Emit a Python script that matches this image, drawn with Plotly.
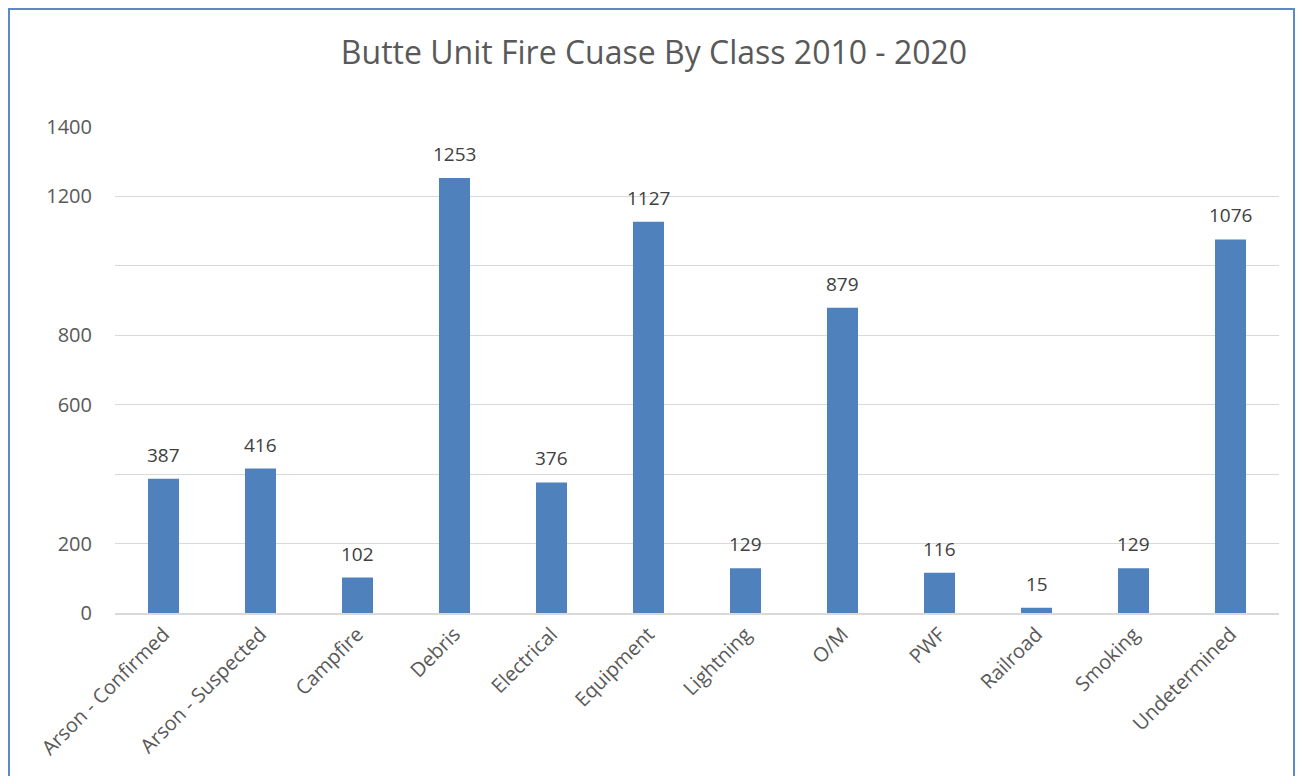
import plotly.graph_objects as go

categories = ["Arson - Confirmed", "Arson - Suspected", "Campfire", "Debris", "Electrical",
              "Equipment", "Lightning", "O/M", "PWF", "Railroad", "Smoking", "Undetermined"]
counts = [387, 416, 102, 1253, 376, 1127, 129, 879, 116, 15, 129, 1076]
tick_vals = [0, 200, 400, 600, 800, 1000, 1200, 1400]
tick_text = ["0", "200", "", "600", "800", "", "1200", "1400"]

# page body has an 8px margin; figure coordinates = screen - 8
OFF = 8
W, H = 1304 - 2 * OFF, 784 - 2 * OFF
L, T = 115 - OFF, 127 - OFF
R = W - (1279 - OFF)
B = H - (613 - OFF)
pw, ph = W - L - R, H - T - B

def px_x(sx):
    return (sx - OFF - L) / pw

def px_y(sy):
    return (H - B - (sy - OFF)) / ph

FONT = "Open Sans"
TXT = "#595959"
fig = go.Figure(go.Bar(
    x=categories, y=counts,
    marker=dict(color="#4f81bd", line=dict(width=0)),
    hoverinfo="x+y",
))
for c, v in zip(categories, counts):
    fig.add_annotation(x=c, y=v, text=str(v), showarrow=False, yanchor="bottom",
                       yshift=9, font=dict(family=FONT, size=19, color="#404040"))
fig.update_layout(
    width=W, height=H,
    margin=dict(l=L, r=R, t=T, b=B, pad=0),
    paper_bgcolor="white", plot_bgcolor="white",
    bargap=0.68,
    showlegend=False,
    title=dict(text="Butte Unit Fire Cuase By Class 2010 - 2020", x=px_x(654), xanchor="center",
               xref="paper", y=1 - (53 - OFF) / H, yanchor="middle",
               font=dict(family=FONT, size=32, color=TXT)),
    xaxis=dict(tickangle=-45, tickfont=dict(family=FONT, size=20, color=TXT),
               showline=True, linecolor="#d9d9d9", linewidth=1.5, ticks="",
               showgrid=False),
    yaxis=dict(range=[0, 1400], tickvals=tick_vals, ticktext=tick_text,
               tickfont=dict(family=FONT, size=20, color=TXT),
               showgrid=True, gridcolor="#d9d9d9", gridwidth=1.2,
               zeroline=False, showline=False, ticks="", ticklabelstandoff=22),
    shapes=[dict(type="rect", xref="paper", yref="paper",
                 x0=px_x(9), x1=px_x(1294), y0=px_y(800), y1=px_y(9),
                 line=dict(color="#5b8ac6", width=2), fillcolor="rgba(0,0,0,0)", layer="below")],
)
fig.write_html("out.html")
